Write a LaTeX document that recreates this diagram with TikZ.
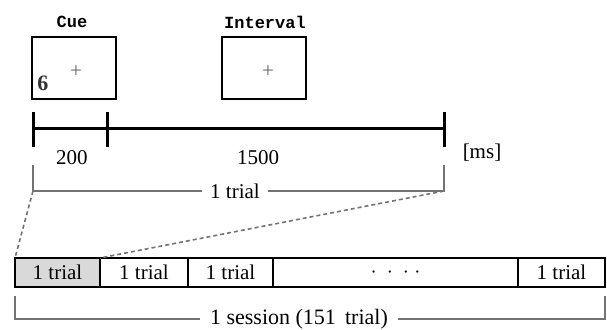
\documentclass[tikz,border=0pt]{standalone}
\usepackage{fontspec}
\setmainfont{Liberation Serif}
\newfontfamily\monofont{Liberation Mono}
\usetikzlibrary{positioning}
\begin{document}
\begin{tikzpicture}[x=0.5pt,y=-0.5pt,font=\fontsize{10.5}{12}\selectfont,
    screen/.style={draw,line width=1.2pt,minimum width=42pt,minimum height=31pt,inner sep=0pt},
    scrlabel/.style={font=\monofont\bfseries\fontsize{8.5}{10}\selectfont},
    axis/.style={line width=1.5pt},
    cell/.style={draw,line width=1.2pt,minimum height=14.5pt,inner sep=0pt,outer sep=0pt},
    brk/.style={draw=black!55,line width=0.7pt},
    zoomline/.style={draw=black!55,line width=0.8pt,dash pattern=on 2pt off 1.5pt}]
    \useasboundingbox (0,0) rectangle (607,330);
    % screens
    \node[screen] (cue) at (74,68) {};
    \node[screen] (intv) at (264,68) {};
    \node[scrlabel] at (72,22) {Cue};
    \node[scrlabel] at (265,22) {Interval};
    \node[text=black!60] at (76,72) {+};
    \node[text=black!60] at (268,72) {+};
    \node[text=black!80,font=\bfseries\fontsize{11}{12}\selectfont] at (43,83) {6};
    % time axis
    \coordinate (t0) at (33,129);
    \coordinate (t1) at (107,129);
    \coordinate (t2) at (444,129);
    \draw[axis] (t0) -- (t2);
    \draw[axis] (t0) ++(0,-17) -- ++(0,35);
    \draw[axis] (t1) ++(0,-17) -- ++(0,35);
    \draw[axis] (t2) ++(0,-17) -- ++(0,35);
    \node at (72,158) {200};
    \node at (258,158) {1500};
    \node at (482,153) {[ms]};
    % one trial bracket
    \coordinate (a0) at (33,165);
    \coordinate (a1) at (444,165);
    \node[inner xsep=4pt] (trial) at (235,191) {1 trial};
    \draw[brk] (a0) |- (trial.west);
    \draw[brk] (trial.east) -| (a1);
    % session bar
    \node[cell,anchor=west,fill=black!15,minimum width=42.5pt] (c1) at (15,272.5) {1 trial};
    \node[cell,right=0pt of c1,minimum width=44pt] (c2) {1 trial};
    \node[cell,right=0pt of c2,minimum width=42.5pt] (c3) {1 trial};
    \node[cell,right=0pt of c3,minimum width=122.5pt] (c4) {$\cdot\ \cdot\ \cdot\ \cdot$};
    \node[cell,right=0pt of c4,minimum width=43.5pt] (c5) {1 trial};
    \draw[zoomline] (33,191) -- (c1.north west);
    \draw[zoomline] (444,191) -- (c1.north east);
    % session bracket
    \coordinate (b0) at (15,296);
    \coordinate (b1) at (605,296);
    \node[inner xsep=5pt,font=\fontsize{11}{12}\selectfont] (sess) at (299,319) {1 session (151\, trial)};
    \draw[brk] (b0) |- (sess.west);
    \draw[brk] (sess.east) -| (b1);
\end{tikzpicture}
\end{document}
